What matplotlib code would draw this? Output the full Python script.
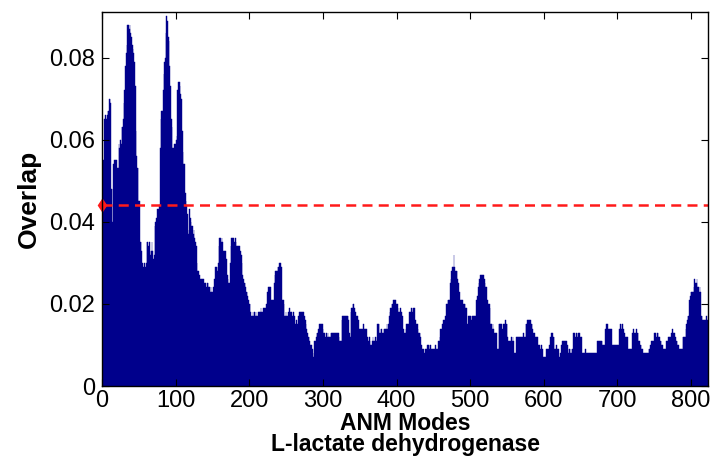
import numpy as np
import matplotlib.pyplot as plt

# overlap per ANM mode, in units of 1e-3
overlap_milli = [
    46, 55, 65, 65, 66, 65, 66, 67, 67, 70,
    70, 69, 48, 40, 48, 54, 55, 55, 54, 55,
    53, 53, 59, 58, 60, 59, 63, 63, 65, 69,
    72, 78, 81, 83, 88, 88, 87, 88, 86, 85,
    83, 82, 81, 79, 73, 62, 56, 53, 53, 45,
    45, 35, 35, 33, 30, 29, 29, 30, 29, 30,
    35, 35, 34, 35, 33, 32, 33, 35, 33, 31,
    32, 39, 40, 41, 43, 43, 43, 44, 58, 65,
    67, 67, 72, 76, 79, 80, 86, 90, 89, 85,
    84, 78, 73, 65, 63, 58, 58, 59, 57, 59,
    60, 61, 72, 74, 74, 73, 71, 70, 62, 57,
    54, 54, 47, 45, 44, 42, 37, 38, 43, 41,
    40, 39, 39, 37, 38, 36, 35, 34, 30, 28,
    28, 27, 26, 26, 26, 26, 25, 26, 25, 25,
    25, 24, 25, 25, 24, 24, 23, 24, 23, 23,
    24, 16, 26, 29, 29, 29, 28, 30, 34, 36,
    36, 35, 36, 35, 33, 33, 32, 33, 31, 27,
    26, 25, 25, 30, 34, 36, 36, 35, 36, 35,
    36, 35, 34, 34, 34, 33, 34, 33, 32, 30,
    27, 26, 25, 25, 24, 23, 23, 22, 21, 20,
    20, 18, 17, 17, 18, 17, 18, 17, 18, 17,
    17, 17, 18, 18, 18, 19, 18, 18, 19, 18,
    19, 19, 20, 19, 23, 24, 24, 23, 24, 21,
    20, 21, 21, 25, 27, 28, 28, 28, 29, 29,
    30, 30, 29, 29, 21, 21, 20, 17, 17, 18,
    17, 17, 18, 18, 19, 18, 18, 17, 17, 18,
    17, 15, 15, 16, 15, 15, 17, 18, 18, 18,
    18, 18, 17, 18, 17, 16, 15, 14, 13, 12,
    12, 11, 10, 10, 9, 9, 7, 8, 11, 11,
    12, 13, 13, 14, 15, 15, 15, 15, 15, 14,
    13, 13, 12, 12, 13, 12, 13, 12, 12, 12,
    13, 13, 13, 13, 12, 13, 13, 13, 13, 13,
    13, 12, 11, 11, 11, 16, 17, 17, 17, 17,
    17, 17, 17, 17, 16, 13, 12, 18, 19, 19,
    20, 20, 19, 18, 17, 17, 17, 16, 14, 14,
    14, 14, 14, 14, 15, 14, 14, 14, 14, 12,
    12, 11, 12, 11, 10, 10, 11, 12, 11, 11,
    12, 12, 11, 15, 15, 15, 13, 13, 14, 14,
    13, 13, 14, 14, 14, 14, 15, 14, 15, 17,
    18, 19, 19, 20, 20, 21, 21, 20, 21, 20,
    20, 19, 18, 18, 19, 18, 18, 17, 14, 13,
    13, 13, 14, 15, 15, 15, 15, 18, 18, 19,
    19, 18, 19, 19, 16, 16, 15, 15, 14, 13,
    13, 13, 12, 10, 9, 9, 9, 8, 9, 7,
    9, 10, 10, 10, 9, 10, 9, 9, 9, 9,
    9, 9, 10, 9, 9, 9, 11, 11, 12, 14,
    14, 15, 15, 16, 16, 17, 17, 20, 20, 21,
    21, 21, 25, 26, 28, 29, 29, 32, 29, 28,
    28, 28, 26, 25, 23, 23, 21, 21, 21, 21,
    20, 20, 20, 19, 19, 15, 15, 17, 17, 17,
    17, 16, 17, 17, 17, 17, 17, 17, 21, 22,
    24, 25, 26, 27, 27, 27, 27, 27, 26, 25,
    24, 24, 21, 21, 20, 20, 19, 15, 15, 14,
    15, 14, 13, 13, 13, 13, 9, 9, 15, 15,
    15, 15, 15, 14, 15, 15, 15, 16, 15, 15,
    12, 11, 11, 11, 11, 12, 11, 12, 11, 8,
    8, 8, 12, 12, 12, 12, 12, 12, 12, 12,
    12, 13, 12, 12, 12, 15, 15, 16, 16, 16,
    16, 16, 15, 15, 14, 13, 13, 12, 12, 12,
    12, 10, 10, 10, 9, 9, 10, 9, 7, 7,
    7, 7, 7, 9, 9, 9, 9, 10, 12, 13,
    12, 13, 12, 12, 9, 9, 10, 9, 9, 9,
    7, 7, 8, 10, 11, 10, 11, 11, 11, 11,
    11, 10, 9, 8, 9, 8, 9, 8, 9, 13,
    13, 13, 12, 13, 13, 12, 13, 13, 12, 12,
    12, 8, 8, 8, 8, 8, 9, 8, 8, 8,
    8, 8, 8, 8, 8, 8, 8, 8, 8, 8,
    8, 8, 11, 11, 11, 11, 11, 11, 11, 10,
    10, 10, 10, 14, 15, 14, 15, 14, 14, 14,
    14, 14, 10, 10, 10, 10, 10, 10, 10, 10,
    10, 10, 14, 15, 15, 14, 15, 14, 13, 13,
    12, 12, 12, 12, 9, 9, 9, 9, 9, 13,
    13, 14, 13, 13, 13, 14, 13, 13, 11, 11,
    10, 10, 9, 9, 8, 8, 8, 8, 8, 8,
    8, 8, 9, 9, 10, 11, 11, 11, 11, 13,
    13, 13, 12, 13, 13, 12, 12, 11, 11, 10,
    10, 9, 9, 9, 9, 9, 11, 11, 12, 11,
    12, 12, 13, 13, 14, 13, 13, 13, 12, 11,
    11, 10, 10, 9, 9, 9, 9, 9, 12, 12,
    12, 12, 14, 15, 16, 17, 17, 21, 22, 23,
    23, 23, 23, 24, 26, 25, 25, 26, 24, 24,
    23, 24, 23, 17, 17, 16, 16, 16, 16, 16,
    17, 16,
]
threshold = 0.0441

x_ticks = [0, 100, 200, 300, 400, 500, 600, 700, 800]
y_ticks = [0, 0.02, 0.04, 0.06, 0.08]
y_tick_labels = ['0', '0.02', '0.04', '0.06', '0.08']

overlap = np.array(overlap_milli) * 1e-3
modes = np.arange(1, len(overlap) + 1)

plt.rcParams['font.family'] = ['Liberation Sans', 'DejaVu Sans']

fig = plt.figure(figsize=(7.15, 4.59), dpi=100)
ax = fig.add_axes([0.1427, 0.159, 0.8475, 0.815])

ax.bar(modes, overlap, width=1.0, color='#00008C', edgecolor='#00008C', linewidth=0.3)
xmax = len(overlap) + 1
ax.plot([0, xmax], [threshold, threshold], color='#FF1A1A', linestyle=(0, (4, 2.5)), linewidth=1.8)
ax.plot([0], [threshold], marker='d', color='#FF1A1A', markersize=6, clip_on=False)

ax.set_xlim(0, xmax)
ax.set_ylim(0, 0.0911)
ax.set_xticks(x_ticks)
ax.set_yticks(y_ticks)
ax.set_yticklabels(y_tick_labels)
ax.tick_params(direction='in', top=True, right=True, length=5, width=0.8, labelsize=17)
ax.tick_params(axis='x', pad=3)
ax.tick_params(axis='y', pad=5)
for s in ax.spines.values():
    s.set_linewidth(1.0)

ax.set_xlabel('ANM Modes\nL-lactate dehydrogenase', fontsize=16.5, fontweight='bold', linespacing=0.9, labelpad=0)
ax.set_ylabel('Overlap', fontsize=19, fontweight='bold', labelpad=6)

fig.savefig('out.png', dpi=100)
